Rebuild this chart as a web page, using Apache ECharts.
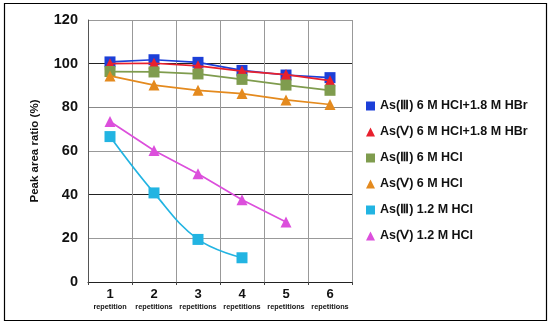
<!DOCTYPE html>
<html>
<head>
<meta charset="utf-8">
<script src="https://cdn.jsdelivr.net/npm/echarts@6/dist/echarts.min.js"></script>
<style>
html,body{margin:0;padding:0;background:#fff;}
#c{width:550px;height:325px;}
</style>
</head>
<body>
<div id="c"></div>
<script>
const categories = ['1', '2', '3', '4', '5', '6'];
const catWords = ['repetition', 'repetitions', 'repetitions', 'repetitions', 'repetitions', 'repetitions'];
const yTicks = [0, 20, 40, 60, 80, 100, 120];

const seriesNames = [
  'As(Ⅲ) 6 M HCl+1.8 M HBr',
  'As(Ⅴ) 6 M HCl+1.8 M HBr',
  'As(Ⅲ) 6 M HCl',
  'As(Ⅴ) 6 M HCl',
  'As(Ⅲ) 1.2 M HCl',
  'As(Ⅴ) 1.2 M HCl'
];
const asIII_HBr = [100.8, 101.8, 100.6, 96.9, 94.8, 93.6];
const asV_HBr   = [100.0, 100.2, 99.0, 96.6, 95.0, 92.2];
const asIII_HCl6 = [96.4, 96.2, 95.3, 92.8, 90.2, 87.8];
const asV_HCl6  = [94.4, 90.2, 87.8, 86.3, 83.4, 81.3];
const asIII_HCl12 = [66.6, 40.8, 19.5, 11.1, null, null];
const asV_HCl12 = [73.5, 60.2, 49.6, 37.7, 27.5, null];

const colors = ['#1c3fd8', '#e8202e', '#7f9c4e', '#e48a1e', '#22b4e2', '#dc4fdc'];
const symbols = ['rect', 'triangle', 'rect', 'triangle', 'rect', 'triangle'];
const dataSets = [asIII_HBr, asV_HBr, asIII_HCl6, asV_HCl6, asIII_HCl12, asV_HCl12];
const smoothFlags = [false, false, false, false, true, false];

const FONT = '"Liberation Sans", Arial, Helvetica, sans-serif';

const chart = echarts.init(document.getElementById('c'));
chart.setOption({
  animation: false,
  backgroundColor: '#fff',
  graphic: [{
    type: 'rect',
    shape: {x: 4.5, y: 3.5, width: 542, height: 317},
    style: {fill: 'none', stroke: '#000', lineWidth: 1.2},
    z: -1
  }],
  grid: {left: 88, top: 20, width: 264, height: 262},
  legend: {
    orient: 'vertical',
    left: 361,
    top: 94,
    itemWidth: 9,
    itemHeight: 9,
    itemGap: 12,
    data: seriesNames.map((n, i) => ({name: n, icon: symbols[i]})),
    textStyle: {fontFamily: FONT, fontWeight: 'bold', fontSize: 12.5, color: '#111', lineHeight: 14}
  },
  xAxis: {
    type: 'category',
    data: categories,
    boundaryGap: true,
    axisLine: {show: true, lineStyle: {color: '#222', width: 1}},
    axisTick: {show: true, length: 3, lineStyle: {color: '#444'}},
    splitLine: {show: true, lineStyle: {color: '#999', width: 1}},
    axisLabel: {
      margin: 5,
      interval: 0,
      formatter: (v, i) => '{n|' + v + '}\n{w|' + catWords[i] + '}',
      rich: {
        n: {fontFamily: FONT, fontWeight: 'bold', fontSize: 13, color: '#111', lineHeight: 14},
        w: {fontFamily: '"Liberation Sans Narrow", "Liberation Sans", Arial, sans-serif', fontWeight: 'bold', fontSize: 7.3, color: '#111', lineHeight: 11}
      }
    }
  },
  yAxis: {
    type: 'value',
    min: 0,
    max: 120,
    interval: 20,
    name: 'Peak area ratio (%)',
    nameLocation: 'middle',
    nameGap: 47,
    nameTextStyle: {fontFamily: FONT, fontWeight: 'bold', fontSize: 11.5, color: '#111'},
    axisLine: {show: true, lineStyle: {color: '#555', width: 1}},
    axisTick: {show: false},
    splitLine: {show: true, lineStyle: {color: ['#333', '#999', '#222', '#999', '#888', '#222', '#999'], width: 1}},
    axisLabel: {margin: 10, fontFamily: FONT, fontWeight: 'bold', fontSize: 14.5, color: '#111',
      formatter: v => yTicks.includes(v) ? String(v) : ''}
  },
  series: dataSets.map((d, i) => ({
    name: seriesNames[i],
    type: 'line',
    data: d,
    smooth: smoothFlags[i] ? 0.4 : false,
    symbol: symbols[i],
    symbolSize: 11,
    connectNulls: false,
    itemStyle: {color: colors[i]},
    lineStyle: {color: colors[i], width: 1.7},
    z: 2 + i
  }))
});
</script>
</body>
</html>
